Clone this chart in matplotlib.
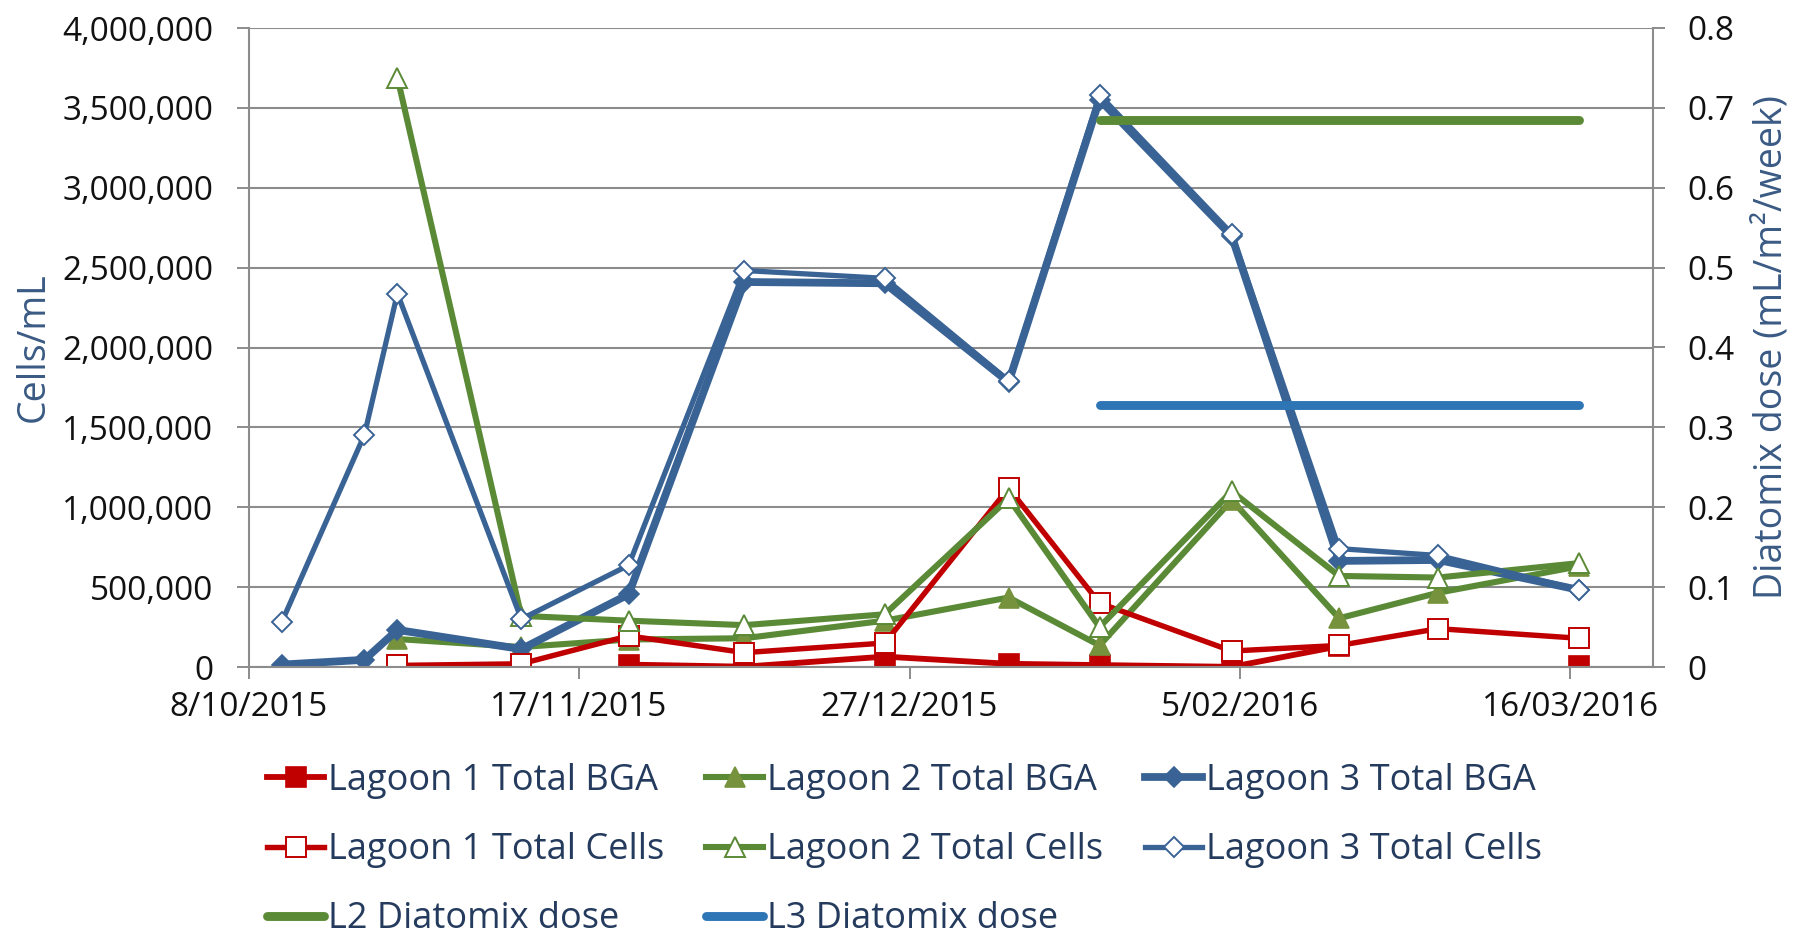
import numpy as np
import matplotlib.pyplot as plt
import matplotlib.dates as mdates
from matplotlib.ticker import FuncFormatter, FixedLocator, MultipleLocator
import datetime as dt

plt.rcParams['font.family'] = ['Open Sans', 'DejaVu Sans']

## Data
nan = np.nan
sample_dates = ['2015-10-12', '2015-10-22', '2015-10-26', '2015-11-10', '2015-11-23',
                '2015-12-07', '2015-12-24', '2016-01-08', '2016-01-19', '2016-02-04',
                '2016-02-17', '2016-02-29', '2016-03-17']

l1_bga   = [nan, nan, 10000, nan, 15000, 2000, 65000, 20000, 12000, 1000, 130000, nan, 5000]
l1_cells = [nan, nan, 10000, 20000, 195000, 90000, 150000, 1120000, 400000, 100000, 135000, 240000, 180000]
l2_bga   = [nan, nan, 175000, 125000, 172000, 180000, 290000, 435000, 135000, 1045000, 305000, 465000, 630000]
l2_cells = [nan, nan, 3690000, 320000, 290000, 262000, 330000, 1055000, 250000, 1100000, 570000, 560000, 650000]
l3_bga   = [15000, 45000, 232000, 112000, 455000, 2410000, 2402000, 1783000, 3552000, 2697000, 664000, 670000, 483000]
l3_cells = [281000, 1452000, 2338000, 300000, 637000, 2482000, 2433000, 1792000, 3581000, 2713000, 741000, 698000, 485000]

# Diatomix dose (right axis, mL/m2/week)
l2_dose = [nan, nan, nan, nan, nan, nan, nan, nan, 0.685, 0.685, 0.685, 0.685, 0.685]
l3_dose = [nan, nan, nan, nan, nan, nan, nan, nan, 0.328, 0.328, 0.328, 0.328, 0.328]

x_tick_dates = ['2015-10-08', '2015-11-17', '2015-12-27', '2016-02-05', '2016-03-16']
x_start, x_end = '2015-10-08', '2016-03-26'

## Styles
red = '#C00000'
green = '#5B8A36'
green_fill = '#76923C'
blue = '#3A6395'
dose_blue = '#2E75B6'
grid_col = '#8C8C8C'
label_col = '#3A5A84'
legend_col = '#243B5E'

dates = [dt.datetime.strptime(d, '%Y-%m-%d') for d in sample_dates]

fig = plt.figure(figsize=(17.95, 9.4), dpi=100)
ax = fig.add_axes([248.7/1795, 1 - 667/940, (1653 - 248.7)/1795, (667 - 28)/940])
ax2 = ax.twinx()

# primary series, in the original order
h_l1b, = ax.plot(dates, l1_bga, color=red, lw=4.2, marker='s', ms=14.5, mfc=red, mec=red, mew=1.2)
h_l2b, = ax.plot(dates, l2_bga, color=green, lw=4.4, marker='^', ms=15, mfc=green_fill, mec=green_fill, mew=1.2)
h_l3b, = ax.plot(dates, l3_bga, color=blue, lw=5.6, marker='D', ms=10.5, mfc=blue, mec=blue, mew=1.2)
h_l1c, = ax.plot(dates, l1_cells, color=red, lw=3.9, marker='s', ms=14, mfc='white', mec=red, mew=1.4)
h_l2c, = ax.plot(dates, l2_cells, color=green, lw=4.4, marker='^', ms=15, mfc='white', mec=green, mew=1.4)
h_l3c, = ax.plot(dates, l3_cells, color=blue, lw=3.8, marker='D', ms=10.5, mfc='white', mec=blue, mew=1.4)

# secondary series
h_d2, = ax2.plot(dates, l2_dose, color=green, lw=6.4, solid_capstyle='round')
h_d3, = ax2.plot(dates, l3_dose, color=dose_blue, lw=6.4, solid_capstyle='round')

## Axes
ax.set_xlim(mdates.datestr2num(x_start), mdates.datestr2num(x_end))
ax.xaxis.set_major_locator(FixedLocator(mdates.datestr2num(x_tick_dates)))
ax.xaxis.set_major_formatter(FuncFormatter(
    lambda v, p: '%d/%02d/%d' % (mdates.num2date(v).day, mdates.num2date(v).month, mdates.num2date(v).year)))

ax.set_ylim(0, 4000000)
ax.yaxis.set_major_locator(MultipleLocator(500000))
ax.yaxis.set_major_formatter(FuncFormatter(lambda v, p: '{:,.0f}'.format(v)))
ax2.set_ylim(0, 0.8)
ax2.yaxis.set_major_locator(MultipleLocator(0.1))
ax2.yaxis.set_major_formatter(FuncFormatter(lambda v, p: '0' if abs(v) < 1e-9 else '%.1f' % v))

ax.grid(axis='y', color=grid_col, lw=1.5)
ax.set_axisbelow(True)

for a in (ax, ax2):
    for s in a.spines.values():
        s.set_visible(False)
ax.spines['left'].set_visible(True)
ax.spines['bottom'].set_visible(True)
ax2.spines['right'].set_visible(True)
for s in (ax.spines['left'], ax.spines['bottom'], ax2.spines['right']):
    s.set_color(grid_col)
    s.set_linewidth(1.5)

ax.tick_params(axis='y', length=8.6, width=1.4, color=grid_col, pad=17, labelsize=24, labelcolor='#111111')
ax.tick_params(axis='x', length=8.6, width=1.4, color=grid_col, pad=9, labelsize=24, labelcolor='#111111')
ax2.tick_params(axis='y', length=8.6, width=1.4, color=grid_col, pad=16, labelsize=24, labelcolor='#111111')

ax.set_ylabel('Cells/mL', fontsize=27, color=label_col)
ax.yaxis.label.set_va('center')
ax.yaxis.set_label_coords((34 - 248.7)/1404.3, 0.5)
ax2.set_ylabel('Diatomix dose (mL/m²/week)', fontsize=27, color=label_col, rotation=90)
ax2.yaxis.label.set_va('center')
ax2.yaxis.set_label_coords((1772 - 248.7)/1404.3, 0.5)

## Legend: three columns placed by hand
cols = [([h_l1b, h_l1c, h_d2], ['Lagoon 1 Total BGA', 'Lagoon 1 Total Cells', 'L2 Diatomix dose'], 267),
        ([h_l2b, h_l2c, h_d3], ['Lagoon 2 Total BGA', 'Lagoon 2 Total Cells', 'L3 Diatomix dose'], 706),
        ([h_l3b, h_l3c], ['Lagoon 3 Total BGA', 'Lagoon 3 Total Cells'], 1145)]
for hs, labs, xpix in cols:
    leg = fig.legend(hs, labs, loc='upper left', bbox_to_anchor=(xpix/1795, 1 - 763/940),
                     frameon=False, fontsize=26, handlelength=1.58, handletextpad=0.1,
                     labelspacing=0.92, borderpad=0, borderaxespad=0, numpoints=1)
    for t in leg.get_texts():
        t.set_color(legend_col)

fig.savefig('out.png', dpi=100)
